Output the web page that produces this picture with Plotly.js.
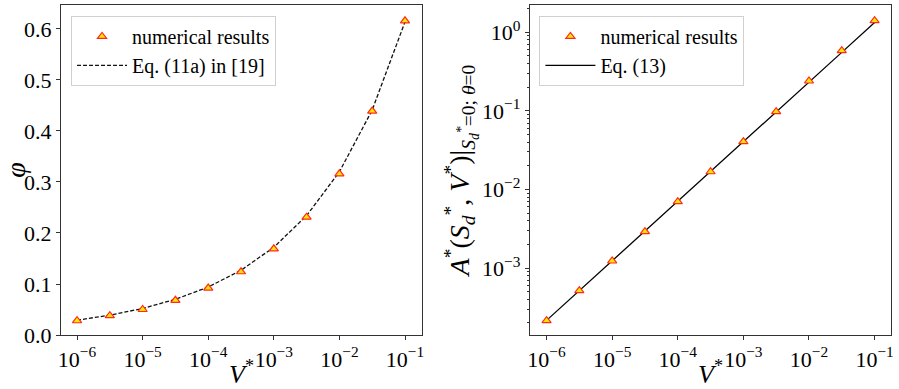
<!DOCTYPE html>
<html>
<head>
<meta charset="utf-8">
<script src="https://cdn.plot.ly/plotly-3.0.1.min.js"></script>
<style>
  body { margin: 0; background: #fff; }
  #chart { width: 899px; height: 389px; }
</style>
</head>
<body>
<div id="chart"></div>
<script>
// V* sampled at half decades, 1e-6 .. 1e-1
var vStar = [1e-6, 3.16e-6, 1e-5, 3.16e-5, 1e-4, 3.16e-4, 1e-3, 3.16e-3, 1e-2, 3.16e-2, 1e-1];

// left panel: phi
var phiNumerical = [0.028, 0.038, 0.050, 0.068, 0.092, 0.124, 0.169, 0.231, 0.316, 0.439, 0.616];
var phiEq11a = [0.029, 0.039, 0.052, 0.070, 0.094, 0.127, 0.172, 0.234, 0.320, 0.441, 0.614];

// right panel: A*
var aNumerical = [2.14e-4, 5.15e-4, 1.23e-3, 2.90e-3, 7.0e-3, 0.0168, 0.0406, 0.0977, 0.240, 0.583, 1.405];
var aEq13 = [2.16e-4, 5.18e-4, 1.24e-3, 2.93e-3, 7.0e-3, 0.0168, 0.0402, 0.0965, 0.231, 0.555, 1.33];

// tick labels
var xTickVals = [1e-6, 1e-5, 1e-4, 1e-3, 1e-2, 1e-1];
var xTickText = ['10<sup>−6</sup>', '10<sup>−5</sup>', '10<sup>−4</sup>', '10<sup>−3</sup>', '10<sup>−2</sup>', '10<sup>−1</sup>'];
var aTickVals = [1e-3, 1e-2, 1e-1, 1];
var aTickText = ['10<sup>−3</sup>', '10<sup>−2</sup>', '10<sup>−1</sup>', '10<sup>0</sup>'];

var serif = '"Liberation Serif", "Times New Roman", serif';
var markerStyle = { symbol: 'triangle-up', size: 8, color: '#ffe600', line: { color: '#ff2a1a', width: 1.2 } };

// lines first so the markers sit on top; legends are reversed
var traces = [
  { x: vStar, y: phiEq11a, mode: 'lines', name: 'Eq. (11a) in [19]',
    line: { color: '#111', width: 1.3, dash: '4px,2px' }, xaxis: 'x', yaxis: 'y', legend: 'legend' },
  { x: vStar, y: phiNumerical, mode: 'markers', name: 'numerical results',
    marker: markerStyle, xaxis: 'x', yaxis: 'y', legend: 'legend' },
  { x: vStar, y: aEq13, mode: 'lines', name: 'Eq. (13)',
    line: { color: '#000', width: 1.3 }, xaxis: 'x2', yaxis: 'y2', legend: 'legend2' },
  { x: vStar, y: aNumerical, mode: 'markers', name: 'numerical results',
    marker: markerStyle, xaxis: 'x2', yaxis: 'y2', legend: 'legend2' }
];

var axisBase = {
  showline: true, mirror: true, linecolor: '#333', linewidth: 1.2,
  ticks: 'outside', ticklen: 4, tickcolor: '#333', showgrid: false, zeroline: false,
  tickfont: { family: serif, size: 22, color: '#000' }
};
var logX = Object.assign({}, axisBase, {
  type: 'log', tickvals: xTickVals, ticktext: xTickText,
  title: { text: '<i>V</i><sup>*</sup>', font: { family: serif, size: 26, color: '#000' }, standoff: 4 }
});

var legendBase = {
  font: { family: serif, size: 20, color: '#000' },
  bgcolor: 'rgba(255,255,255,0.9)', bordercolor: '#d0d0d0', borderwidth: 1,
  xanchor: 'left', yanchor: 'top', itemwidth: 50, tracegroupgap: 0, traceorder: 'reversed'
};

var layout = {
  width: 899, height: 389,
  margin: { l: 0, r: 0, t: 0, b: 0 },
  paper_bgcolor: '#fff', plot_bgcolor: '#fff',
  showlegend: true,
  xaxis: Object.assign({}, logX, { domain: [0.0679, 0.4694], range: [-6.244, -0.741], anchor: 'y' }),
  yaxis: Object.assign({}, axisBase, {
    domain: [0.1388, 0.9871], range: [0, 0.647], dtick: 0.1, tickformat: '.1f', anchor: 'x',
    title: { text: '<i>φ</i>', font: { family: serif, size: 28, color: '#000' }, standoff: 6 }
  }),
  xaxis2: Object.assign({}, logX, { domain: [0.5895, 0.9911], range: [-6.253, -0.75], anchor: 'y2' }),
  yaxis2: Object.assign({}, axisBase, {
    type: 'log', domain: [0.1388, 0.9871], range: [-3.852, 0.347], anchor: 'x2',
    tickvals: aTickVals, ticktext: aTickText,
    minor: { ticks: 'outside', ticklen: 2, tickcolor: '#333', dtick: 'D1' },
    title: {
      text: '<i>A</i><sup>*</sup>(<i>S</i><sub><i>d</i></sub><sup>*</sup>, <i>V</i><sup>*</sup>)|<sub><i>S<sub>d</sub><sup>*</sup></i>=0; <i>θ</i>=0</sub>',
      font: { family: serif, size: 28, color: '#000' }, standoff: 4
    }
  }),
  legend: Object.assign({}, legendBase, { x: 0.079, y: 0.959 }),
  legend2: Object.assign({}, legendBase, { x: 0.600, y: 0.959 })
};

Plotly.newPlot('chart', traces, layout, { displayModeBar: false, staticPlot: true });
</script>
</body>
</html>
